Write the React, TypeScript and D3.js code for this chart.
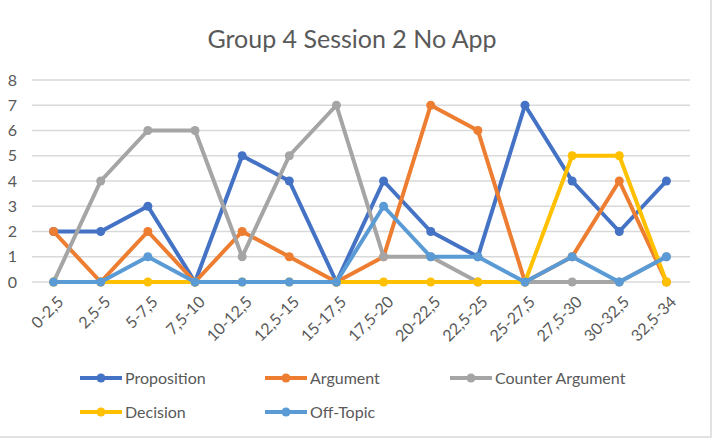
import React from "react"
import * as d3 from "d3"

const categories = [
	"0-2,5", "2,5-5", "5-7,5", "7,5-10", "10-12,5", "12,5-15", "15-17,5",
	"17,5-20", "20-22,5", "22,5-25", "25-27,5", "27,5-30", "30-32,5", "32,5-34",
]
const proposition = [2, 2, 3, 0, 5, 4, 0, 4, 2, 1, 7, 4, 2, 4]
const argument = [2, 0, 2, 0, 2, 1, 0, 1, 7, 6, 0, 1, 4, 0]
const counterArgument = [0, 4, 6, 6, 1, 5, 7, 1, 1, 0, 0, 0, 0, 1]
const decision = [0, 0, 0, 0, 0, 0, 0, 0, 0, 0, 0, 5, 5, 0]
const offTopic = [0, 0, 1, 0, 0, 0, 0, 3, 1, 1, 0, 1, 0, 1]
const yTicks = [0, 1, 2, 3, 4, 5, 6, 7, 8]

const series = [
	{ name: "Proposition", values: proposition, color: "#4472C4" },
	{ name: "Argument", values: argument, color: "#ED7D31" },
	{ name: "Counter Argument", values: counterArgument, color: "#A5A5A5" },
	{ name: "Decision", values: decision, color: "#FFC000" },
	{ name: "Off-Topic", values: offTopic, color: "#5B9BD5" },
]

const W = 715
const H = 444
const FONT = "Lato, Carlito, Calibri, sans-serif"
const TEXT = "#595959"

export default function App() {
	const plotLeft = 30
	const plotRight = 690
	const plotTop = 80
	const plotBottom = 282

	const x = d3.scaleBand().domain(categories).range([plotLeft, plotRight])
	const cx = (c: string) => (x(c) as number) + x.bandwidth() / 2
	const y = d3.scaleLinear().domain([0, 8]).range([plotBottom, plotTop])

	const line = d3
		.line<number>()
		.x((_, i) => cx(categories[i]))
		.y(d => y(d))

	// legend: three items per row
	const legendCols = [80, 265, 450]
	const legendRows = [378, 412]

	return (
		<svg
			width={W}
			height={H}
			style={{ position: "absolute", left: 0, top: 0, background: "#fff" }}
			fontFamily={FONT}
		>
			<rect x={-1} y={-1} width={712} height={438} fill="#fff" stroke="#D9D9D9" strokeWidth={1.5} />

			<text x={352} y={48} textAnchor="middle" fontSize={25} fill={TEXT}>
				Group 4 Session 2 No App
			</text>

			{/* gridlines and y labels */}
			{yTicks.map(t => (
				<g key={t}>
					<line x1={plotLeft + 2} x2={plotRight} y1={y(t)} y2={y(t)} stroke="#D9D9D9" strokeWidth={1.5} />
					<text x={17} y={y(t)} dy="0.35em" textAnchor="end" fontSize={16} fill={TEXT}>
						{t}
					</text>
				</g>
			))}

			{/* x labels, rotated */}
			{categories.map(c => (
				<text
					key={c}
					transform={`translate(${cx(c) + 7},${plotBottom + 17}) rotate(-45)`}
					textAnchor="end"
					dy="0.35em"
					fontSize={16}
					fill={TEXT}
				>
					{c}
				</text>
			))}

			{series.map(s => (
				<g key={s.name}>
					<path d={line(s.values) || ""} fill="none" stroke={s.color} strokeWidth={4} strokeLinejoin="round" />
					{s.values.map((v, i) => (
						<circle key={i} cx={cx(categories[i])} cy={y(v)} r={4.5} fill={s.color} />
					))}
				</g>
			))}

			{series.map((s, i) => {
				const lx = legendCols[i % 3]
				const ly = legendRows[Math.floor(i / 3)]
				return (
					<g key={s.name} transform={`translate(${lx},${ly})`}>
						<line x1={0} x2={42} y1={0} y2={0} stroke={s.color} strokeWidth={4} />
						<circle cx={21} cy={0} r={4.5} fill={s.color} />
						<text x={45} y={0} dy="0.35em" fontSize={16} fill={TEXT}>
							{s.name}
						</text>
					</g>
				)
			})}
		</svg>
	)
}
